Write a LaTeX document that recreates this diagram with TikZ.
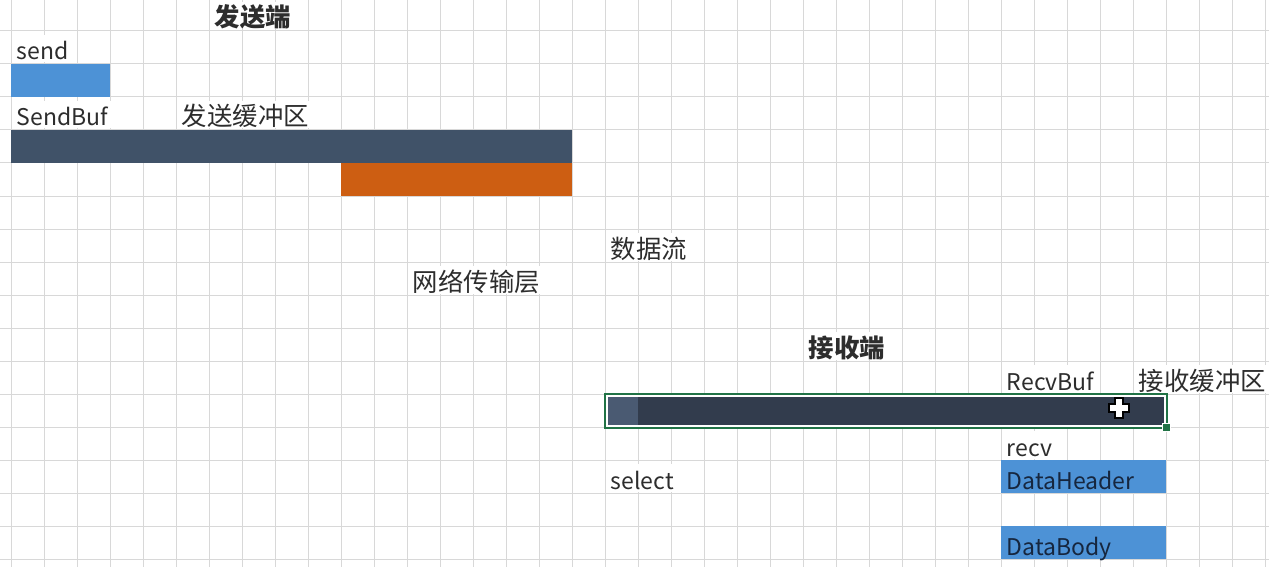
\documentclass[tikz,border=0pt]{standalone}
\usepackage{fontspec}
\setmainfont{Noto Sans CJK SC}
\definecolor{gridgray}{RGB}{216,216,216}
\definecolor{txtgray}{RGB}{45,45,45}
\definecolor{cellblue}{RGB}{77,146,214}
\definecolor{bufslate}{RGB}{64,82,104}
\definecolor{netorange}{RGB}{205,94,18}
\definecolor{recvdark}{RGB}{50,60,77}
\definecolor{recvlight}{RGB}{74,90,114}
\definecolor{selgreen}{RGB}{33,115,70}
\definecolor{navytxt}{RGB}{22,38,62}
\tikzset{
  gridline/.style={gridgray, line width=0.5pt},
  cell/.style={anchor=base west, fill=white, inner xsep=2.5pt, inner ysep=0pt,
    text height=12.5pt, text depth=1.25pt, text=txtgray,
    font=\fontsize{11.5}{14}\selectfont},
  cjkcell/.style={cell, font=\fontsize{12.7}{15}\selectfont},
  title/.style={cell, font=\fontsize{12.7}{15}\selectfont\bfseries},
  barlabel/.style={cell, fill=none, text=navytxt}
}
\begin{document}
\begin{tikzpicture}[x=0.5pt, y=-0.5pt]
\useasboundingbox (0,0) rectangle (1269,567);
\clip (0,0) rectangle (1269,567);
% sheet grid
\foreach \c in {0,...,38}
  \draw[gridline] ({11+33*\c},0) -- ({11+33*\c},567);
\foreach \r in {-1,...,16}
  \draw[gridline] (0,{31+33*\r}) -- (1269,{31+33*\r});
% filled cells
\fill[cellblue] (11,64) rectangle (110,97);
\fill[bufslate] (11,130) rectangle (572,163);
\fill[netorange] (341,163) rectangle (572,196);
\fill[cellblue] (1001,460) rectangle (1166,493);
\fill[cellblue] (1001,526) rectangle (1166,559);
% receive buffer (selected range)
\fill[white] (605,394) rectangle (1166,427);
\fill[recvdark] (607.5,396.5) rectangle (1163.5,424.5);
\fill[recvlight] (607.5,396.5) rectangle (638,424.5);
\draw[selgreen, line width=1pt] (604.5,393.5) rectangle (1166.5,427.5);
\draw[selgreen, fill=selgreen, draw=white, line width=0.5pt] (1162,423) rectangle (1170,431);
% texts
\node[title] (sendside) at (209.5,27) {发送端};
\node[cell] (send) at (11.5,60) {send};
\node[cell] (sendbuf) at (11.5,126) {SendBuf};
\node[cjkcell] (sendbufcn) at (176.5,126) {发送缓冲区};
\node[cjkcell] (flow) at (605.5,258) {数据流};
\node[cjkcell] (netlayer) at (407.5,291) {网络传输层};
\node[title] (recvside) at (803.5,357) {接收端};
\node[cell] (recvbuf) at (1001.5,390) {RecvBuf};
\node[cjkcell] (recvbufcn) at (1133.5,390) {接收缓冲区};
\node[cell] (recv) at (1001.5,456) {recv};
\node[cell] (select) at (605.5,489) {select};
\node[barlabel] (header) at (1001.5,489) {DataHeader};
\node[barlabel] (body) at (1001.5,555) {DataBody};
% mouse pointer
\draw[fill=white, line width=0.9pt] (1115,398) -- (1123,398) -- (1123,404)
  -- (1129,404) -- (1129,412) -- (1123,412) -- (1123,418) -- (1115,418)
  -- (1115,412) -- (1109,412) -- (1109,404) -- (1115,404) -- cycle;
\end{tikzpicture}
\end{document}
